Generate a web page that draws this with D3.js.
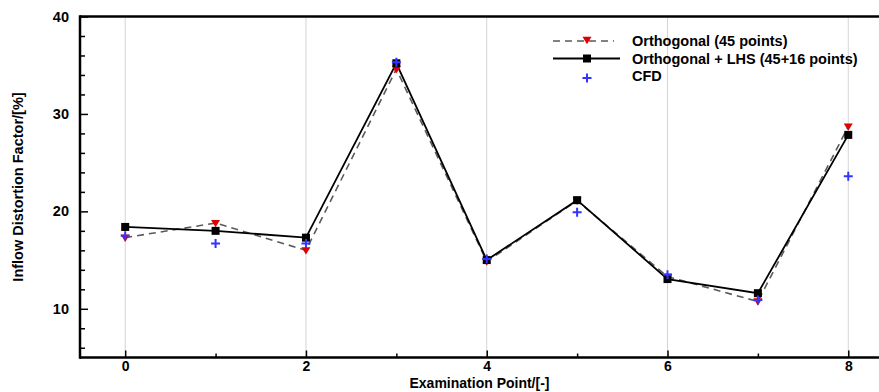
<!DOCTYPE html>
<html><head><meta charset="utf-8">
<script src="https://cdn.jsdelivr.net/npm/d3@7"></script>
<style>
body{margin:0;background:#fff;}
svg text{font-family:"Liberation Sans",Arial,sans-serif;font-weight:bold;fill:#000;}
</style></head>
<body><svg id="c" width="879" height="392"></svg>
<script>
const points = [0,1,2,3,4,5,6,7,8];
const orthogonal = [17.3,18.8,16.0,34.6,14.85,21.1,13.3,10.75,28.7];
const orthoLHS = [18.4,18.0,17.3,35.2,15.0,21.15,13.05,11.6,27.85];
const cfd = [17.5,16.7,16.7,35.3,15.1,19.9,13.5,10.9,23.6];
const xMajorTicks = [0,2,4,6,8];
const xMinorTicks = [1,3,5,7];
const yMajorTicks = [10,20,30,40];
const yMinorTicks = [6,8,12,14,16,18,22,24,26,28,32,34,36,38];
const legendLabels = ["Orthogonal (45 points)","Orthogonal + LHS (45+16 points)","CFD"];

const svg = d3.select("#c");
const L=80, R=879, T=16.5, B=357.5;
const x = d3.scaleLinear().domain([-0.5,8.34]).range([L,R]);
const y = d3.scaleLinear().domain([5,40]).range([B,T]);

// grid
svg.append("g").selectAll("line").data(xMajorTicks).join("line")
  .attr("x1",d=>x(d)).attr("x2",d=>x(d)).attr("y1",T).attr("y2",B)
  .attr("stroke","#d4d4d4").attr("stroke-width",1);

// axes
const xAxis = d3.axisBottom(x).tickValues(xMajorTicks).tickSize(-7).tickPadding(4).tickFormat(d3.format("d"));
const gx = svg.append("g").attr("transform",`translate(0,${B})`).call(xAxis);
const xMinor = d3.axisBottom(x).tickValues(xMinorTicks).tickSize(-4).tickFormat("");
const gxm = svg.append("g").attr("transform",`translate(0,${B})`).call(xMinor);
const yAxis = d3.axisLeft(y).tickValues(yMajorTicks).tickSize(-8).tickPadding(11).tickFormat(d3.format("d"));
const gy = svg.append("g").attr("transform",`translate(${L},0)`).call(yAxis);
const yMinor = d3.axisLeft(y).tickValues(yMinorTicks).tickSize(-5).tickFormat("");
const gym = svg.append("g").attr("transform",`translate(${L},0)`).call(yMinor);
[gx,gxm,gy,gym].forEach(g=>{
  g.select(".domain").remove();
  g.selectAll(".tick line").attr("stroke","#000").attr("stroke-width",1.5);
  g.selectAll("text").style("font-size","14.5px").attr("font-weight","bold");
});
gx.selectAll("text").style("font-size","14px");
// frame
svg.append("line").attr("x1",L).attr("x2",R).attr("y1",B).attr("y2",B).attr("stroke","#000").attr("stroke-width",2.5);
svg.append("line").attr("x1",L).attr("x2",R).attr("y1",T).attr("y2",T).attr("stroke","#000").attr("stroke-width",2.5);
svg.append("line").attr("x1",L).attr("x2",L).attr("y1",T-1.2).attr("y2",B+1.2).attr("stroke","#000").attr("stroke-width",2.5);

// titles
svg.append("text").attr("x",(L+R)/2).attr("y",387.5).attr("text-anchor","middle").style("font-size","14px").text("Examination Point/[-]");
svg.append("text").attr("transform",`translate(23,${(T+B)/2}) rotate(-90)`).attr("text-anchor","middle").style("font-size","14.5px").text("Inflow Distortion Factor/[%]");

const line = d3.line().x((d,i)=>x(points[i])).y(d=>y(d));
svg.append("path").datum(orthogonal).attr("d",line).attr("fill","none").attr("stroke","#5a5a5a").attr("stroke-width",1.6).attr("stroke-dasharray","7,5");
svg.append("path").datum(orthoLHS).attr("d",line).attr("fill","none").attr("stroke","#000").attr("stroke-width",1.8);

const tri = s=>`M${-s},${-s*0.7}L${s},${-s*0.7}L0,${s*0.95}Z`;
function triMark(g,cx,cy){ g.append("path").attr("d",tri(4.5)).attr("transform",`translate(${cx},${cy})`).attr("fill","#dd0000"); }
function sqMark(g,cx,cy){ g.append("rect").attr("x",cx-4).attr("y",cy-4).attr("width",8).attr("height",8).attr("fill","#000"); }
function plusMark(g,cx,cy){ g.append("path").attr("d",`M${cx-4.5},${cy}H${cx+4.5}M${cx},${cy-4.5}V${cy+4.5}`).attr("stroke","#3333ff").attr("stroke-width",2); }

const gm = svg.append("g");
orthogonal.forEach((v,i)=>triMark(gm,x(points[i]),y(v)));
orthoLHS.forEach((v,i)=>sqMark(gm,x(points[i]),y(v)));
cfd.forEach((v,i)=>plusMark(gm,x(points[i]),y(v)));

// legend
const lg = svg.append("g");
const lx0=553, lx1=620, mx=587, tx=632, rows=[41,58.5,76];
lg.append("line").attr("x1",lx0).attr("x2",lx1-6).attr("y1",rows[0]).attr("y2",rows[0]).attr("stroke","#5a5a5a").attr("stroke-width",1.6).attr("stroke-dasharray","7,5");
triMark(lg,mx,rows[0]-1);
lg.append("line").attr("x1",lx0).attr("x2",lx1).attr("y1",rows[1]).attr("y2",rows[1]).attr("stroke","#000").attr("stroke-width",1.8);
sqMark(lg,mx,rows[1]);
plusMark(lg,mx,rows[2]+2);
legendLabels.forEach((t,i)=>lg.append("text").attr("x",tx).attr("y",rows[i]+5).style("font-size","14.5px").text(t));
</script></body></html>
